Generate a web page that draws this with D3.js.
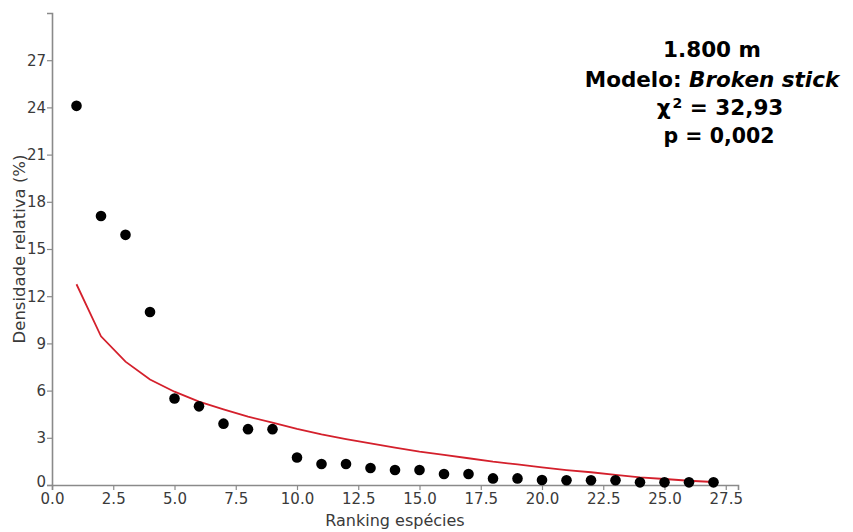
<!DOCTYPE html>
<html>
<head>
<meta charset="utf-8">
<script src="https://cdn.jsdelivr.net/npm/d3@7"></script>
<style>
  html, body { margin: 0; padding: 0; background: #fff; }
  svg { display: block; }
</style>
</head>
<body>
<svg id="chart" width="853" height="532"></svg>
<script>
// Species rank (1..27)
const ranks = [1,2,3,4,5,6,7,8,9,10,11,12,13,14,15,16,17,18,19,20,21,22,23,24,25,26,27];
// Observed relative density (%)
const observed = [24.1,17.1,15.9,11.0,5.5,5.0,3.9,3.55,3.55,1.75,1.33,1.33,1.08,0.95,0.95,0.7,0.7,0.42,0.42,0.32,0.3,0.3,0.3,0.17,0.17,0.17,0.17];
// Expected relative density under the broken stick model (%)
const expected = [12.76,9.45,7.84,6.7,5.93,5.3,4.81,4.34,3.96,3.56,3.22,2.92,2.65,2.37,2.12,1.91,1.7,1.48,1.31,1.12,0.95,0.81,0.64,0.49,0.38,0.27,0.19];
const xTicks = [0,2.5,5,7.5,10,12.5,15,17.5,20,22.5,25,27.5];
const yTicks = [0,3,6,9,12,15,18,21,24,27];
const notes = ["1.800 m", "Modelo: ", "Broken stick", "χ", "2", " = 32,93", "p = 0,002"];

const svg = d3.select("#chart");
const font = "'DejaVu Sans', sans-serif";
const axisColor = "#8a8a8a";
const textColor = "#3a3a3a";

const x = d3.scaleLinear().domain([0, 28]).range([52, 738]);
const y = d3.scaleLinear().domain([0, 30]).range([485, 13]);

// x axis
const gx = svg.append("g").attr("transform", `translate(0,${y(0)})`)
  .call(d3.axisBottom(x).tickValues(xTicks).tickFormat(d3.format(".1f")).tickSizeOuter(0).tickSize(5).tickPadding(3));
// y axis
const gy = svg.append("g").attr("transform", `translate(${x(0)},0)`)
  .call(d3.axisLeft(y).tickValues(yTicks).tickFormat(d3.format("d")).tickSizeOuter(0).tickSize(5).tickPadding(1));

[gx, gy].forEach(g => {
  g.select(".domain").attr("stroke", axisColor).attr("stroke-width", 1.6);
  g.selectAll(".tick line").attr("stroke", axisColor).attr("stroke-width", 1.2);
  g.selectAll(".tick text").attr("fill", textColor).style("font-family", font).style("font-size", "15px");
});
// lift the y-axis zero label slightly so it clears the x-axis zero label
gy.selectAll(".tick text").filter(d => d === 0).attr("dy", "0.1em");

// axis titles
svg.append("text")
  .attr("x", 395).attr("y", 526)
  .attr("text-anchor", "middle")
  .style("font-family", font).style("font-size", "16px").attr("fill", textColor)
  .text("Ranking espécies");
svg.append("text")
  .attr("transform", "translate(25,249) rotate(-90)")
  .attr("text-anchor", "middle")
  .style("font-family", font).style("font-size", "16.5px").attr("fill", textColor)
  .text("Densidade relativa (%)");

// expected curve
const line = d3.line().x((d, i) => x(ranks[i])).y(d => y(d));
svg.append("path")
  .datum(expected)
  .attr("d", line)
  .attr("fill", "none")
  .attr("stroke", "#d4202c")
  .attr("stroke-width", 1.8);

// observed points
svg.append("g").selectAll("circle")
  .data(observed)
  .join("circle")
  .attr("cx", (d, i) => x(ranks[i]))
  .attr("cy", d => y(d))
  .attr("r", 5.3)
  .attr("fill", "#000");

// annotation block
const ann = svg.append("g")
  .style("font-family", font).style("font-weight", "bold").style("font-size", "21.5px")
  .attr("fill", "#000").attr("text-anchor", "middle");
ann.append("text").attr("x", 712).attr("y", 57).text(notes[0]);
const l2 = ann.append("text").attr("x", 712).attr("y", 87);
l2.append("tspan").text(notes[1]);
l2.append("tspan").style("font-style", "italic").text(notes[2]);
const l3 = ann.append("text").attr("x", 720).attr("y", 115);
l3.append("tspan").text(notes[3]);
l3.append("tspan").attr("dx", 2).attr("dy", -7).style("font-size", "14px").text(notes[4]);
l3.append("tspan").attr("dy", 7).text(notes[5]);
ann.append("text").attr("x", 719).attr("y", 143).style("font-size", "20.5px").text(notes[6]);
</script>
</body>
</html>
